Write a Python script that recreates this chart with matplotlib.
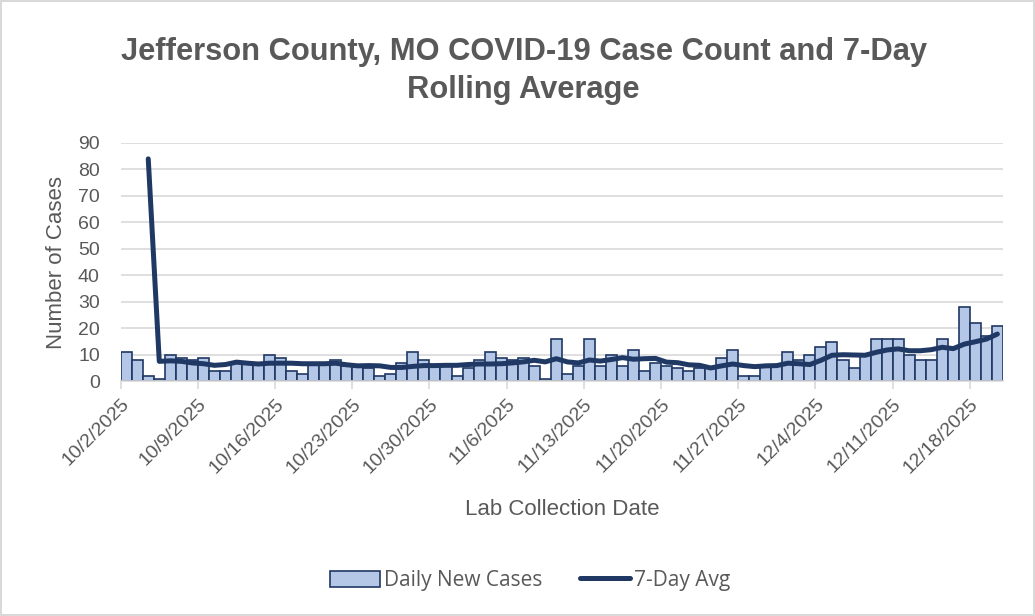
import numpy as np
import pandas as pd
import matplotlib
matplotlib.use("Agg")
import matplotlib.pyplot as plt
from matplotlib.lines import Line2D
from matplotlib.patches import Patch

# daily new cases, 10/2/2025 .. 12/20/2025
start_date = "2025-10-02"
daily_cases = [
    11, 8, 2, 1, 10, 9, 8, 9, 4, 4, 7, 7, 7,
    10, 9, 4, 3, 7, 7, 8, 6, 6, 5, 2, 3, 7,
    11, 8, 6, 6, 2, 5, 8, 11, 9, 8, 9, 6, 1,
    16, 3, 6, 16, 6, 10, 6, 12, 4, 7, 6, 5, 4,
    5, 5, 9, 12, 2, 2, 6, 6, 11, 8, 10, 13, 15,
    8, 5, 10, 16, 16, 16, 10, 8, 8, 16, 13, 28, 22, 17, 21,
]

# 7-day average as drawn, starts on the 3rd day
avg_offset = 2
avg_values = [
    84.0, 7.6, 7.8, 7.6, 7.0, 6.7, 6.1, 6.4, 7.3, 6.9, 6.6,
    6.9, 6.9, 6.9, 6.7, 6.7, 6.7, 6.9, 6.3, 5.9, 6.0, 5.9, 5.3, 5.3,
    5.7, 6.0, 6.0, 6.1, 6.1, 6.4, 6.6, 6.6, 6.7, 7.0, 7.4, 8.0, 7.4,
    8.6, 7.4, 7.0, 8.1, 7.7, 8.3, 9.0, 8.4, 8.6, 8.7, 7.3, 7.1, 6.3,
    6.1, 5.1, 5.9, 6.6, 6.0, 5.6, 5.9, 6.0, 6.9, 6.7, 6.4, 8.0, 9.9,
    10.1, 10.0, 9.9, 11.0, 11.9, 12.3, 11.6, 11.6, 12.0, 12.9, 12.4,
    14.1, 15.0, 16.0, 17.9,
]

y_ticks = [0, 10, 20, 30, 40, 50, 60, 70, 80, 90]

bar_fill = "#b4c7e7"
navy = "#1f3864"
grey_text = "#595959"
grid_col = "#d9d9d9"

dates = pd.date_range(start_date, periods=len(daily_cases), freq="D")
avg_dates = dates[avg_offset:avg_offset + len(avg_values)] + pd.Timedelta(hours=12)

plt.rcParams["font.family"] = ["Liberation Sans", "DejaVu Sans"]

fig = plt.figure(figsize=(10.35, 6.16), dpi=100)
fig.patch.set_edgecolor(grid_col)
fig.patch.set_linewidth(1.5)
ax = fig.add_axes([0.1166, 0.3807, 0.8524, 0.3872])

ax.bar(
    dates,
    daily_cases,
    width=1.0,
    align="edge",
    color=bar_fill,
    edgecolor=navy,
    linewidth=1.2,
    zorder=2,
)
ax.plot(
    avg_dates,
    avg_values,
    color=navy,
    linewidth=3.6,
    solid_capstyle="round",
    solid_joinstyle="round",
    zorder=3,
)

ax.set_ylim(0, 90)
ax.set_yticks(y_ticks)
ax.set_xlim(dates[0], dates[-1] + pd.Timedelta(days=1))

tick_dates = dates[::7]
ax.set_xticks(tick_dates)
ax.set_xticklabels(
    [f"{d.month}/{d.day}/{d.year}" for d in tick_dates],
    rotation=45,
    ha="right",
    rotation_mode="anchor",
)

ax.grid(axis="y", color=grid_col, linewidth=1.2, zorder=0)
ax.set_axisbelow(True)
for side in ["top", "right", "left"]:
    ax.spines[side].set_visible(False)
ax.spines["bottom"].set_color(grid_col)
ax.spines["bottom"].set_linewidth(1.2)

ax.tick_params(axis="y", length=0, labelsize=14, labelcolor=grey_text, pad=15)
ax.tick_params(
    axis="x",
    length=6,
    width=1.2,
    color=grid_col,
    labelsize=14,
    labelcolor=grey_text,
    pad=4,
)

ax.set_ylabel("Number of Cases", fontsize=16, color=grey_text, labelpad=8)
ax.set_xlabel("Lab Collection Date", fontsize=16, color=grey_text, labelpad=16)

fig.text(
    0.506,
    0.885,
    "Jefferson County, MO COVID-19 Case Count and 7-Day\nRolling Average",
    ha="center",
    va="center",
    fontsize=22.2,
    fontweight="bold",
    color=grey_text,
    linespacing=1.36,
)

handles = [
    Patch(facecolor=bar_fill, edgecolor=navy, linewidth=1.2),
    Line2D([0], [0], color=navy, linewidth=3.6, solid_capstyle="round"),
]
fig.legend(
    handles,
    ["Daily New Cases", "7-Day Avg"],
    loc="center",
    bbox_to_anchor=(0.512, 0.058),
    ncol=2,
    frameon=False,
    prop={"family": ["Open Sans", "DejaVu Sans"], "size": 15},
    labelcolor=grey_text,
    handlelength=2.4,
    handleheight=0.8,
    handletextpad=0.2,
    columnspacing=1.8,
)

fig.savefig("out.png", dpi=100)
plt.close(fig)
